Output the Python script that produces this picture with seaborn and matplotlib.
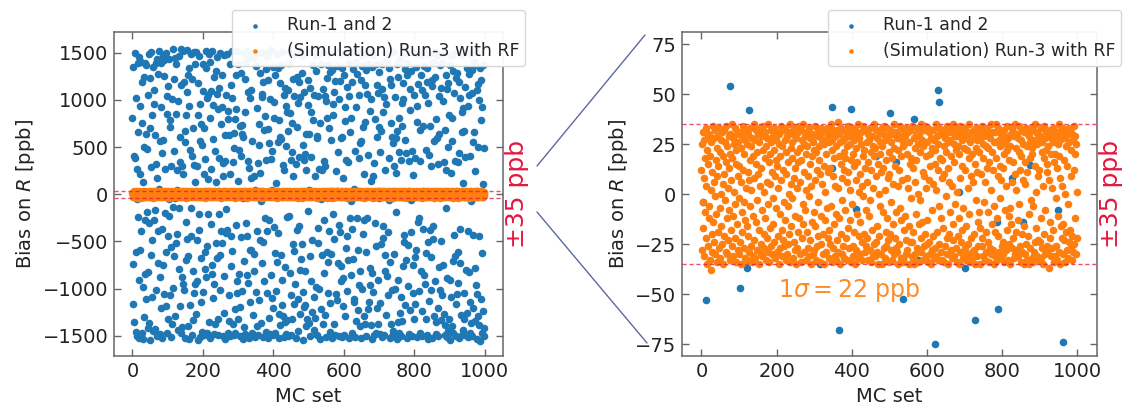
import numpy as np
import matplotlib
matplotlib.use("Agg")
import matplotlib.pyplot as plt
import seaborn as sns
from matplotlib.lines import Line2D

# ---------------- data (bias on R in ppb, one value per MC set) ----------------
run12_rows = [
    [812, -1163, 1347, -742, 405, -4, -1352, 1498, 380, -1462, 1021, -615, -53, 268, -1498, 1390, -240, 657, -905, 1456],
    [-1520, 935, 215, -588, 1402, -390, -1475, 1188, 760, -980, 132, -1530, 503, -1302, 1244, -268, -846, 1395, 642, -1110],
    [1365, -193, 476, -1418, 1050, -825, 1482, -305, -1362, 698, 1230, -1540, 290, -640, 1512, -1085, 835, -490, 1345, -1455],
    [1102, -270, 958, -172, -1432, 630, 1390, -1015, 325, -1498, 168, 1432, -730, 1277, -385, 54, 1516, -880, 560, -1478],
    [1395, -1210, 920, -1522, 440, -370, 1470, -745, 575, 1256, -1062, 1418, -195, 265, -1180, 1500, -612, 852, -1466, 1040],
    [-1325, 1150, -448, -47, 1435, -235, 788, -1070, 708, -1510, 303, -560, 1005, -1375, 1535, -130, -995, 1220, 455, -660],
    [-37, 1445, -1290, 848, -512, 1376, -420, 42, 258, -1436, 990, -795, 1465, -150, 340, -1180, 612, -1470, 1160, 1535],
    [-1405, 298, -875, 1520, -955, 215, 1195, -1015, 672, -1520, 555, -290, 840, -700, 1085, -475, 1530, -650, 1262, -1395],
    [940, -1530, 1342, -1170, 470, 1488, -438, -148, 1225, -1492, 410, -815, 705, -1335, 1510, -1050, 305, 1380, -955, 125],
    [-1268, 1505, -490, 302, -920, 845, -1545, 1180, -205, 1470, -380, 960, -1512, 566, -675, 745, -1140, 520, -1462, 1090],
    [-1040, 1385, -1495, 698, 215, -612, 375, -790, 1518, -880, 1335, -1470, 1020, -545, 1048, -208, 165, 1490, -1358, 812],
    [1402, -1525, 1098, -312, 272, -848, 1515, -755, 945, -1105, 590, -1480, 1238, -950, 462, -1380, 128, 1310, -518, 1060],
    [-680, 1455, -1320, 905, -1492, 380, -205, 1128, -646, 1502, -1015, 748, -390, 1268, -520, 920, -1505, 335, 196, -1262],
    [1475, -870, 350, -1530, 630, -415, 1055, -152, 1488, -380, 800, -1468, 880, -1340, 628, -1070, 210, -1500, 1385, -765],
    [1162, -440, 1520, -605, 1020, -1372, 340, -1495, 485, 650, -1212, 795, -1475, 1265, -330, 908, -1052, 1515, -925, 140],
    [-1318, 1378, -850, 470, -1505, 722, -1195, 1290, -450, 405, 735, -1022, 640, -1530, 612, -35, -1410, 1495, -705, 1225],
    [-1485, 870, 1398, -302, 1520, -448, -860, 1088, -940, 350, -1525, 278, 1462, -1138, 1015, -595, 1108, -590, 170, -1470],
    [560, 1445, -1280, 1508, -812, 195, -638, 43.5, 13, -1515, 1362, -1035, 1482, -395, 910, -1402, 330, -1492, 745, 518],
    [-1125, 1286, -480, 230, 1500, -68, -1360, 1058, -730, 1032, -1515, 1190, -505, 680, -925, 825, -255, 1495, -1460, 365],
    [1330, -1048, 1465, -390, 690, -1528, 1215, -275, 540, -1312, 1010, -1478, 372, -860, 1525, -1105, 460, 42.5, -1205, 1352],
    [-1495, 978, -352, 808, -620, 1262, -1470, 120, -1030, 1490, -7.5, -718, 1338, -415, 555, -1520, 792, -1265, 612, -1385],
    [1180, -645, 585, 1372, -1172, 1505, -910, 315, -1290, 262, -1512, 1048, -770, 1130, -1358, 935, -1485, 515, -240, 868],
    [-1335, 1102, -1500, 670, 1395, -226, 1512, -840, 862, -1072, 368, -1495, 445, 750, -1318, 1226, -525, 196, -1160, 1045],
    [-602, 1490, -955, 318, -1525, 19, 1245, -380, 715, -1110, 972, -1450, 1190, -340, 400, -805, 1032, -1268, 1515, -690],
    [1290, -530, 1465, -1035, 520, -1545, 358, -1198, 1080, -1170, 425, -812, 642, -1392, 255, 1502, -1325, 948, -180, 1212],
    [-1360, 640, 40.5, -1505, 1128, -655, 390, -920, 872, -1245, 1510, -482, 790, 1372, -1090, 1055, -1435, 195, 16, -1310],
    [1478, -985, 1305, -1495, 598, 620, -362, 1042, -520, 1492, -1008, 268, -1530, 760, 1385, -52.5, -1218, -32, 252, -640],
    [1115, -1380, 1508, -832, 352, -268, 295, 1040, -1285, 985, -1510, 1232, -615, 810, -718, 1370, -1052, 1498, -395, 702],
    [-1462, 1295, -1148, 575, -635, 37.5, 1322, -1520, 845, -210, 960, -1375, 1088, -478, 1202, -33, -1490, 250, -1060, 1515],
    [32, -1120, 1362, -725, 448, -1505, 1010, -325, 1482, -402, 1205, -758, 595, -925, 612, -1512, 1338, -1180, 170, -890],
    [1262, -1495, 778, 925, -1292, 1502, -570, 368, -445, 1135, -1028, 1485, -702, 342, 1392, -1528, 1045, -255, 660, -860],
    [-75, 812, -1475, 1188, -365, 1505, -690, 1330, -1142, 52, -1108, 46, 455, -1510, 930, -1345, 1400, -250, 1275, -588],
    [1502, -1225, 1048, -958, 380, -810, 542, -1392, 565, 1210, -1520, 1362, -1002, 1478, -420, 708, -1290, 215, -270, 1158],
    [-1375, 768, -612, 1322, -1505, 1060, -248, 1490, -1218, 415, 1378, -1145, 1512, -960, 882, -780, 1005, -1385, 145, -1530],
    [1350, -840, 1478, -1032, 190, -1495, 1, 332, -302, 800, -1468, 1385, -545, 1160, -1210, 608, -1372, 1072, -905, 710],
    [-37, 1298, -1482, 452, -1158, 672, -525, 1382, -1512, 1118, -460, 870, -338, 1028, -1495, 1405, -815, 262, -640, 1502],
    [-1280, 952, -868, 1395, -1065, 1488, -402, 385, -63, 1340, -1520, 1222, -720, 755, -1372, 1162, -1498, 610, -1010, 545],
    [-1450, 1512, -635, 298, -1008, 1030, -1485, 220, -188, 598, 1380, -1532, 675, -905, 1240, -1358, 448, -1472, 812, -1260],
    [1435, -1090, 360, -1505, 725, 968, -1345, 1180, -760, 1012, -508, 1502, -428, 1325, -1175, 580, -692, 440, 1395, -1520],
    [1262, -538, 1495, -968, 352, -14, -1482, 1118, -1225, 890, -57.5, -398, 1305, -1508, 462, -745, 208, -1045, 1512, -1318],
    [1055, -670, 388, -1162, 1490, -590, 1348, -1515, 768, 940, -290, 1172, -252, 1502, -1028, 680, -1475, 355, 1265, -810],
    [1478, -1242, 1102, -1500, 725, 8, -368, 1360, -860, 1512, -955, 1048, -1318, 470, -625, 1335, -1492, 1190, -505, 965],
    [-1535, 412, -1130, 1488, -380, 720, -665, 298, -1015, 1150, -1522, 1215, -470, 1398, -342, -14, 568, -1288, 1505, -915],
    [1240, -1480, 802, -1350, 598, 1475, -1205, 318, -1508, 1042, -770, 635, -1020, 14.5, 1365, -498, 1128, -1338, 1488, -1068],
    [1392, -745, 985, 1512, -1270, 340, -1490, 682, -1382, 255, -150, 1262, -1518, 1118, -890, 1180, -1455, 498, -1322, 840],
    [-912, 1372, -1545, 225, -1090, 1465, -1398, 560, 808, -1475, 1310, -708, 1490, -430, 1072, -650, 352, -1505, 1228, -1165],
    [1290, -1058, 1502, -945, 340, -612, 1185, -1520, 438, -725, 1015, -368, 1478, -1282, 662, -1495, 875, 912, -1440, 122],
    [-1325, 668, -1050, 395, -1488, 1142, -805, 1505, -8, -1258, 1335, -1515, 940, -392, 1052, -820, 1270, -1470, 410, -1140],
    [1485, -1362, -74, 1320, -1502, 1078, -430, 558, -1205, 665, 1398, -780, 250, -1345, 1512, -960, 1372, -1058, 1108, -1530],
    [505, -1290, 1170, -445, 1002, -1385, 1340, -1560, 1215, -1108, 788, -620, 920, -1472, 1365, -1235, 105, -1505, 490, -1420],
]

run3_rows = [
    [12, -28, 25, -4, 31, -17, 8, 27, -31, 18, -9, 33, -22, 4, -35, 22, 29, -26, 15, -12],
    [30, -6, 19, -33, 2, -38, 26, -20, 11, -29, 34, -14, 6, 28, -24, -1, 32, -30, 17, -10],
    [23, -34, 9, 29, -19, 14, -27, 33, -7, 21, -32, 0, 27, -16, 31, -25, 5, 19, -35, 10],
    [-21, 32, -3, 26, -29, 16, 34, -12, -30, 24, 3, -23, 29, -8, 13, -33, 30, 20, -18, 7],
    [35, -26, 18, -11, 28, -31, 1, 25, -22, 33, -5, 15, -34, 22, 30, -15, 9, -28, 26, -2],
    [-30, 14, 31, -24, 6, -35, 23, -9, 29, -19, 12, 34, -27, -4, 20, -32, 27, -13, 3, 32],
    [-16, 25, -33, 11, 30, -21, 7, -29, 33, 17, -6, -26, 24, 2, -34, 28, -11, 19, -31, 35],
    [8, -23, 27, -32, 15, 32, -14, 21, -3, -28, 30, 10, -35, 26, -18, 4, 33, -25, 13, -30],
    [29, -8, -31, 22, 34, -20, 1, -27, 18, 31, -12, 24, -33, 6, 28, -22, -5, 35, -29, 16],
    [-34, 20, 5, -17, 32, -26, 26, 11, -30, -2, 29, -15, 22, 33, -24, 9, -32, 17, 27, -7],
    [14, -29, 31, -21, 3, 25, -35, 30, -10, 19, -27, 7, 34, -18, -31, 24, 12, -23, 32, -4],
    [-26, 33, -13, 27, -33, 10, 21, -30, 29, -6, 16, -25, 31, 0, -20, 35, -34, 23, 5, -16],
    [26, -2, 18, -32, 30, -24, 8, 33, -28, 13, -11, 28, -35, 21, 3, -27, 31, -19, 16, 34],
    [-12, 23, -30, 6, 32, -34, 17, -22, 27, -5, 35, -15, 11, -29, 25, 29, -8, -33, 20, 2],
    [31, -19, 24, -27, 9, -1, 33, -31, 15, 28, -23, 4, -35, 30, 19, -14, 26, -30, -9, 22],
    [-28, 7, 34, -16, 21, -33, 29, 12, -26, 32, -4, -21, 24, 17, -34, 10, 30, -25, 33, -11],
    [5, 27, -30, 32, -20, 14, -35, 25, 1, -13, 31, -29, 20, -7, 28, 33, -22, 11, -32, 26],
    [-18, 30, 13, -25, 35, -6, 22, -34, 27, -27, 9, 32, -15, 18, -31, 4, 29, -10, 24, -33],
    [32, -23, 36, 3, -29, 19, -12, 30, -35, 26, 15, -20, 33, -30, 8, -3, 27, -26, 21, 12],
    [-32, 18, 28, -8, 31, -22, 6, 24, -33, 11, 34, -17, -27, 29, 2, -13, 25, -34, 17, 30],
    [-5, 33, -26, 20, -31, 27, 14, -19, 32, -35, 23, 7, -28, 30, -10, 16, -32, 35, -21, 1],
    [28, -14, 10, -30, 25, 31, -24, 4, -33, 19, -1, 34, -20, 22, -29, 13, 32, -8, -26, 26],
    [-22, 6, 30, -33, 16, -11, 27, -28, 33, -3, 21, -34, 12, 29, -18, 3, -31, 24, 35, -25],
    [19, -31, 23, 9, -24, 32, -16, 28, -29, 15, -35, 0, 31, -21, 26, -6, 20, -30, 11, 33],
    [-35, 24, -9, 30, 13, -27, 34, -32, 2, 27, -19, 17, -26, 33, -12, 29, -23, 8, -34, 21],
    [10, -20, 32, -28, 26, -4, 18, -33, 30, -15, 5, 35, -30, 23, -22, 31, 14, -9, -27, 28],
    [-29, 31, 4, -35, 22, 12, -25, 29, -7, 34, -32, 19, -13, 27, 7, -34, 24, -33, 32, -18],
    [25, -11, 29, -23, 33, -30, 8, 20, -28, 3, 31, -16, 26, -35, 15, 32, -24, 18, -2, -31],
    [-24, 34, -32, 13, -19, 28, -35, 23, 6, -30, 30, -10, 17, 33, -27, 25, -34, 0, 29, -15],
    [30, -3, 21, -29, 35, -22, 27, -14, 11, -33, 24, 32, -26, 9, -20, 34, -31, 19, 3, -25],
    [-13, 26, -34, 33, 7, -24, 31, -30, 20, 14, -35, 28, -8, 23, -28, 5, 32, -21, 27, -32],
    [22, -27, 15, 35, -31, 2, 29, -19, 25, -33, 12, -6, 33, -25, 30, 18, -29, 31, -12, 8],
    [-33, 17, 32, -17, 24, -34, 10, 30, -26, 28, -1, 21, -30, 34, -22, 13, 26, -35, 6, -20],
    [31, -9, 27, -28, 19, 33, -32, 4, -23, 35, -15, 25, 16, -31, 29, -5, -27, 22, 32, -34],
    [1, 29, -21, 24, -35, 20, -12, 34, -29, 8, 31, -24, 27, -18, 14, -32, 33, -7, 23, 30],
    [-27, 12, 33, -33, 28, -16, 22, -30, 3, 30, -25, 35, -10, 18, -34, 26, 9, -22, 31, -29],
    [20, -32, 6, 29, -20, 32, -28, 15, -35, 23, -3, 33, -31, 11, 27, -14, -26, 30, 21, -9],
    [-35, 27, -17, 31, 10, -26, 34, -22, 25, -31, 18, -4, 29, -33, 6, 32, -19, 24, -29, 13],
    [33, -24, 23, -9, 30, -34, 16, 28, -27, 2, -30, 35, 21, -15, 31, -28, 12, -35, 26, -6],
    [-19, 31, -31, 18, 35, -12, 26, -33, 9, 33, -21, 27, -29, 14, -2, 24, -32, 30, 7, -26],
    [27, -30, 13, -24, 32, 20, -34, 29, -8, 25, -28, 4, 34, -18, 22, -33, 28, -11, -25, 17],
    [-7, 24, -35, 30, -15, 33, 6, -27, 31, -22, 16, 29, -32, 10, -30, 35, -19, 23, 2, -28],
    [30, -13, 28, -31, 21, -5, 34, -26, 12, 27, -34, 19, -20, 32, -29, 7, 25, -35, 31, -16],
    [-30, 16, 5, -25, 33, -33, 24, 11, -21, 30, -10, 29, -35, 26, 18, -27, 33, -3, 20, -32],
    [23, -34, 32, -6, 27, -29, 14, 35, -24, 1, 31, -17, 25, -31, 9, 30, -23, 12, -33, 28],
    [-24, 29, -12, 33, -32, 21, -27, 26, 4, -35, 18, 34, -20, 28, -8, -30, 22, 31, -26, 15],
    [11, -28, 30, 24, -37, 7, -22, 32, -14, 28, -31, 20, 3, -27, 33, -18, 26, -34, 16, 30],
    [-31, 20, -2, 29, -26, 31, 13, -33, 25, -11, 35, -29, 19, 8, -35, 27, -16, 32, -22, 4],
    [29, -15, 33, -30, 17, -23, 28, 0, -34, 31, -19, 24, -28, 14, 30, -5, -32, 26, 33, -24],
    [-18, 32, -27, 22, 9, -33, 30, -21, 27, -29, 12, 34, -25, 20, -12, 29, -30, 25, 1, -22],
]

run12_bias = [v for row in run12_rows for v in row]
run3_bias = [v for row in run3_rows for v in row]
mc_set_run12 = list(range(len(run12_bias)))
mc_set_run3 = list(range(len(run3_bias)))

label_run12 = "Run-1 and 2"
label_run3 = "(Simulation) Run-3 with RF"
band_ppb = 35
band_label = "±35 ppb"
sigma_label = r"$1\sigma = 22$ ppb"
x_ticks = [0, 200, 400, 600, 800, 1000]
y_ticks_full = [-1500, -1000, -500, 0, 500, 1000, 1500]
y_ticks_zoom = [-75, -50, -25, 0, 25, 50, 75]

# ---------------- style ----------------
sns.set_theme(style="ticks")
plt.rcParams["font.family"] = ["DejaVu Sans"]
plt.rcParams["axes.edgecolor"] = "#666666"
plt.rcParams["axes.linewidth"] = 1.1

c_blue = "#1f77b4"
c_orange = "#ff7f0e"
c_red = "#e3173e"

fig = plt.figure(figsize=(11.27, 4.05), dpi=100)
ax1 = fig.add_axes([0.1012, 0.1198, 0.3452, 0.8012])
ax2 = fig.add_axes([0.6051, 0.1198, 0.3682, 0.8012])

for ax, ylim, yticks in [(ax1, (-1720, 1720), y_ticks_full),
                         (ax2, (-81, 81), y_ticks_zoom)]:
    sns.scatterplot(x=mc_set_run12, y=run12_bias, ax=ax, s=30, color=c_blue,
                    linewidth=0, label=label_run12, zorder=2)
    sns.scatterplot(x=mc_set_run3, y=run3_bias, ax=ax, s=30, color=c_orange,
                    linewidth=0, label=label_run3, zorder=3)
    for yv in (band_ppb, -band_ppb):
        ax.axhline(yv, color=c_red, lw=1.0, ls=(0, (3, 2)), alpha=0.75, zorder=4)
    ax.set_xlim(-52, 1052)
    ax.set_ylim(*ylim)
    ax.set_xticks(x_ticks)
    ax.set_yticks(yticks)
    ax.set_xlabel("MC set", fontsize=14, color="#222222")
    ax.set_ylabel("Bias on $R$ [ppb]", fontsize=14, color="#222222")
    ax.tick_params(direction="in", top=True, right=True, length=5, width=1,
                   color="#666666", labelsize=14, labelcolor="#222222", pad=4)
    ax.text(1.035, 0.5, band_label, transform=ax.transAxes, rotation=90,
            ha="center", va="center", color=c_red, fontsize=18)

leg_kw = dict(loc="upper left", bbox_transform=fig.transFigure, fontsize=12.5,
              borderaxespad=0, frameon=True, framealpha=0.95, edgecolor="#d5d5d5",
              markerscale=0.6, labelspacing=0.45, borderpad=0.35)
ax1.legend(bbox_to_anchor=(232 / 1127, 1 - 10 / 405), **leg_kw)
ax2.legend(bbox_to_anchor=(828 / 1127, 1 - 10 / 405), **leg_kw)

ax2.text(393, -48, sigma_label, color=c_orange, fontsize=17, ha="center",
         va="center", alpha=0.9, zorder=5)

# zoom connector lines
c_line = "#5b69a3"
fig.add_artist(Line2D([537 / 1127, 645 / 1127], [1 - 166 / 405, 1 - 35 / 405],
                      transform=fig.transFigure, color=c_line, lw=1.0))
fig.add_artist(Line2D([537 / 1127, 647 / 1127], [1 - 212 / 405, 1 - 343 / 405],
                      transform=fig.transFigure, color=c_line, lw=1.0))

fig.savefig("out.png", dpi=100)
